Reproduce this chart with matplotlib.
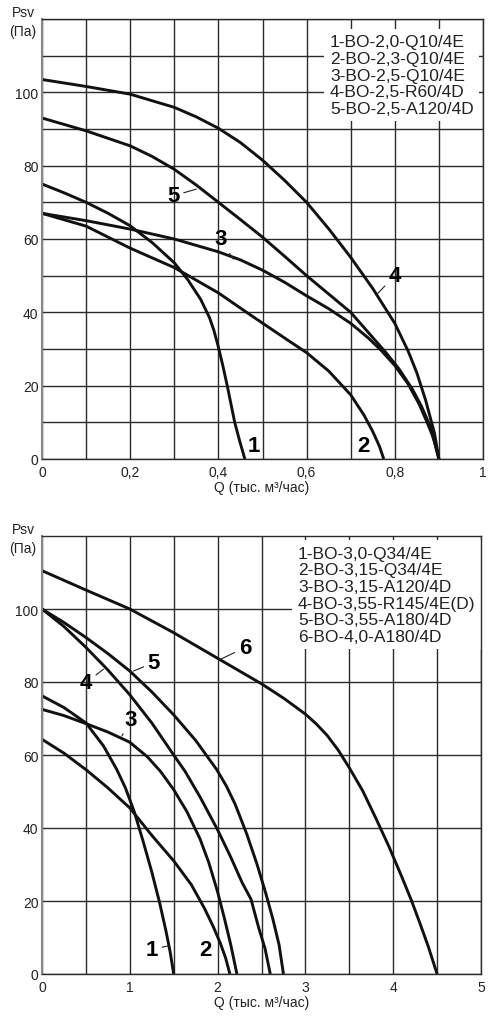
import matplotlib
matplotlib.use('Agg')
import matplotlib.pyplot as plt
from matplotlib.ticker import MultipleLocator

plt.rcParams['font.family'] = ['Liberation Sans', 'DejaVu Sans']

# ---- upper chart: BO-2,x units (Q in thousands m3/h, Psv in Pa) ----
top_q1 = [0, 0.05, 0.1, 0.15, 0.2, 0.25, 0.3, 0.33, 0.36, 0.38, 0.39, 0.4, 0.41, 0.42, 0.437, 0.448, 0.46]
top_p1 = [75, 72.6, 70, 67, 63.6, 59, 53.5, 49, 43.5, 38.5, 35, 30.5, 25.5, 20, 10, 5, 0]
top_q2 = [0, 0.1, 0.2, 0.3, 0.4, 0.47, 0.55, 0.6, 0.65, 0.7, 0.73, 0.75, 0.765, 0.775]
top_p2 = [67, 63.5, 57.5, 52.2, 45.3, 39.5, 33, 29, 24, 17.5, 12, 7.5, 3.5, 0]
top_q3 = [0, 0.1, 0.2, 0.3, 0.4, 0.45, 0.5, 0.55, 0.6, 0.65, 0.7, 0.74, 0.77, 0.8,
          0.83, 0.855, 0.875, 0.89, 0.9]
top_p3 = [67, 65, 62.7, 60, 56.5, 54.3, 51.5, 48.2, 44.5, 41, 37, 33, 29.5, 25.5,
          20.5, 15, 9.5, 5, 0]
top_q4 = [0, 0.1, 0.2, 0.3, 0.35, 0.4, 0.45, 0.5, 0.55, 0.6, 0.65, 0.7, 0.75, 0.8,
          0.83, 0.85, 0.87, 0.89, 0.9]
top_p4 = [103.5, 101.6, 99.5, 95.9, 93.3, 90.2, 86.3, 81.5, 76, 70, 62.8, 55, 46.5, 37,
          29.5, 23.5, 16, 7, 0]
top_q5 = [0, 0.1, 0.2, 0.25, 0.3, 0.35, 0.4, 0.45, 0.5, 0.55, 0.6, 0.65, 0.7, 0.74,
          0.78, 0.81, 0.84, 0.86, 0.88, 0.9]
top_p5 = [93, 89.5, 85.4, 82.5, 79, 74.7, 70, 65.3, 60.5, 55.3, 50, 45, 40, 34.5,
          29, 24.5, 19, 14.5, 9, 0]
top_names = ['1-BO-2,0-Q10/4E', '2-BO-2,3-Q10/4E', '3-BO-2,5-Q10/4E',
             '4-BO-2,5-R60/4D', '5-BO-2,5-A120/4D']
top_xticks = [0, 0.2, 0.4, 0.6, 0.8, 1.0]
top_xlabels = ['0', '0,2', '0,4', '0,6', '0,8', '1']

# ---- lower chart: BO-3.. / BO-4 units ----
bot_q1 = [0, 0.25, 0.5, 0.7, 0.85, 0.95, 1.05, 1.15, 1.25, 1.34, 1.41, 1.46, 1.5]
bot_p1 = [76.2, 73, 68.8, 62.5, 56.1, 51, 44.5, 36.5, 28, 19.5, 12, 6, 0]
bot_q2 = [0, 0.25, 0.5, 0.75, 1.0, 1.25, 1.5, 1.7, 1.85, 1.95, 2.03, 2.09, 2.14]
bot_p2 = [64.3, 60.5, 56, 51, 45.5, 38, 31, 24.5, 18, 13, 8.5, 4.5, 0]
bot_q3 = [0, 0.25, 0.5, 0.75, 1.0, 1.2, 1.35, 1.5, 1.65, 1.8, 1.9, 2.0, 2.08, 2.15, 2.22]
bot_p3 = [72.5, 70.8, 68.6, 66.3, 63.5, 59.5, 55.5, 50.5, 44.5, 37, 30.5, 22.5, 15, 8, 0]
bot_q4 = [0, 0.25, 0.5, 0.75, 1.0, 1.25, 1.5, 1.63, 1.8, 2.0, 2.15, 2.28, 2.38, 2.47, 2.54, 2.6]
bot_p4 = [100, 95.2, 89.5, 83.3, 76.5, 68.8, 60, 55.5, 48.5, 39.5, 32, 25, 20.5, 12.5, 7, 0]
bot_q5 = [0, 0.25, 0.5, 0.75, 1.0, 1.25, 1.5, 1.75, 1.99, 2.1, 2.2, 2.33, 2.45, 2.55,
          2.63, 2.7, 2.75]
bot_p5 = [100, 96.3, 92.2, 87.8, 83, 77.3, 71, 64, 56, 51.5, 46.5, 38.5, 30, 22,
          15, 8, 0]
bot_q6 = [0, 0.5, 1.0, 1.5, 2.0, 2.5, 2.75, 3.0, 3.125, 3.25, 3.375, 3.5, 3.65, 3.8,
          3.95, 4.1, 4.21, 4.3, 4.4, 4.5]
bot_p6 = [110.5, 105.2, 100, 93.5, 86.5, 79.5, 75.6, 71.2, 68.5, 65.3, 61.3, 56.5, 50.3,
          42.8, 35, 26.5, 20, 14.2, 7.5, 0]
bot_names = ['1-BO-3,0-Q34/4E', '2-BO-3,15-Q34/4E', '3-BO-3,15-A120/4D',
             '4-BO-3,55-R145/4E(D)', '5-BO-3,55-A180/4D', '6-BO-4,0-A180/4D']
bot_xticks = [0, 1, 2, 3, 4, 5]
bot_xlabels = ['0', '1', '2', '3', '4', '5']

y_ticks = [0, 20, 40, 60, 80, 100]

W, H = 500, 1020
fig = plt.figure(figsize=(W / 100, H / 100), dpi=100)


def px_axes(left, top, right, bottom):
    return fig.add_axes([left / W, 1 - bottom / H, (right - left) / W, (bottom - top) / H])


def style(ax, xticks, xlabels, xmin_step, ymin_step):
    ax.set_xlim(xticks[0], xticks[-1])
    ax.set_ylim(0, 120)
    ax.set_xticks(xticks, labels=xlabels)
    ax.xaxis.set_minor_locator(MultipleLocator(xmin_step))
    ax.set_yticks(y_ticks)
    if ymin_step:
        ax.yaxis.set_minor_locator(MultipleLocator(ymin_step))
    ax.set_axisbelow(True)
    ax.grid(which='both', color='#2b2b2b', lw=1.0)
    ax.tick_params(which='both', length=0, labelsize=10, colors='#222222')
    ax.tick_params(axis='x', pad=4)
    ax.tick_params(axis='y', pad=2.5)
    for s in ax.spines.values():
        s.set_color('#2b2b2b')
        s.set_linewidth(1.0)
    ax.spines['left'].set_color('#888888')
    ax.spines['left'].set_linewidth(1.5)


def lbl(ax, t, xy, xytext=None):
    kw = dict(fontsize=16, fontweight='bold', ha='center', va='center',
              family=['Liberation Sans Narrow', 'Liberation Sans'])
    if xytext is None:
        ax.text(xy[0], xy[1], t, **kw)
    else:
        ax.annotate(t, xy=xy, xytext=xytext, zorder=4,
                    arrowprops=dict(arrowstyle='-', lw=0.8, color='#222222',
                                    shrinkA=1, shrinkB=0), **kw)


def curves(ax, series):
    for q, p in series:
        ax.plot(q, p, color='#111111', lw=2.1, solid_joinstyle='round', solid_capstyle='butt')


# upper chart
ax1 = px_axes(42, 20, 483, 460)
style(ax1, top_xticks, top_xlabels, 0.1, 10)
curves(ax1, [(top_q1, top_p1), (top_q2, top_p2), (top_q3, top_p3),
             (top_q4, top_p4), (top_q5, top_p5)])
ax1.text(0.653, 115.8, '\n'.join(top_names), fontsize=12.5, linespacing=1.13,
         va='top', ha='left', color='#222222', zorder=2.2,
         bbox=dict(facecolor='white', edgecolor='none', pad=4))
lbl(ax1, '1', (0.48, 3.6))
lbl(ax1, '2', (0.729, 3.6))
lbl(ax1, '3', (0.434, 54.5), (0.404, 60))
lbl(ax1, '4', (0.76, 45), (0.80, 50))
lbl(ax1, '5', (0.35, 73.6), (0.298, 71.8))

# lower chart
ax2 = px_axes(42, 537, 481, 975)
style(ax2, bot_xticks, bot_xlabels, 0.5, None)
curves(ax2, [(bot_q1, bot_p1), (bot_q2, bot_p2), (bot_q3, bot_p3),
             (bot_q4, bot_p4), (bot_q5, bot_p5), (bot_q6, bot_p6)])
ax2.text(2.916, 117.3, '\n'.join(bot_names), fontsize=12.5, linespacing=1.13,
         va='top', ha='left', color='#222222', zorder=2.2,
         bbox=dict(facecolor='white', edgecolor='none', pad=4))
lbl(ax2, '1', (1.44, 7.7), (1.25, 6.8))
lbl(ax2, '2', (1.86, 6.8))
lbl(ax2, '3', (0.91, 65.2), (1.01, 69.8))
lbl(ax2, '4', (0.70, 83.5), (0.50, 79.8))
lbl(ax2, '5', (1.04, 83), (1.275, 85.3))
lbl(ax2, '6', (2.03, 86.2), (2.31, 89.4))

# axis captions
for top, bottom in [(20, 460), (537, 975)]:
    fig.text(23 / W, 1 - (top - 7) / H, 'Psv', fontsize=10, ha='center', va='center', color='#222222')
    fig.text(23 / W, 1 - (top + 12) / H, '(Па)', fontsize=10, ha='center', va='center', color='#222222')
    fig.text(262 / W, 1 - (bottom + 28) / H, 'Q (тыс. м³/час)', fontsize=10,
             ha='center', va='center', color='#222222')

fig.savefig('out.png', dpi=100)
